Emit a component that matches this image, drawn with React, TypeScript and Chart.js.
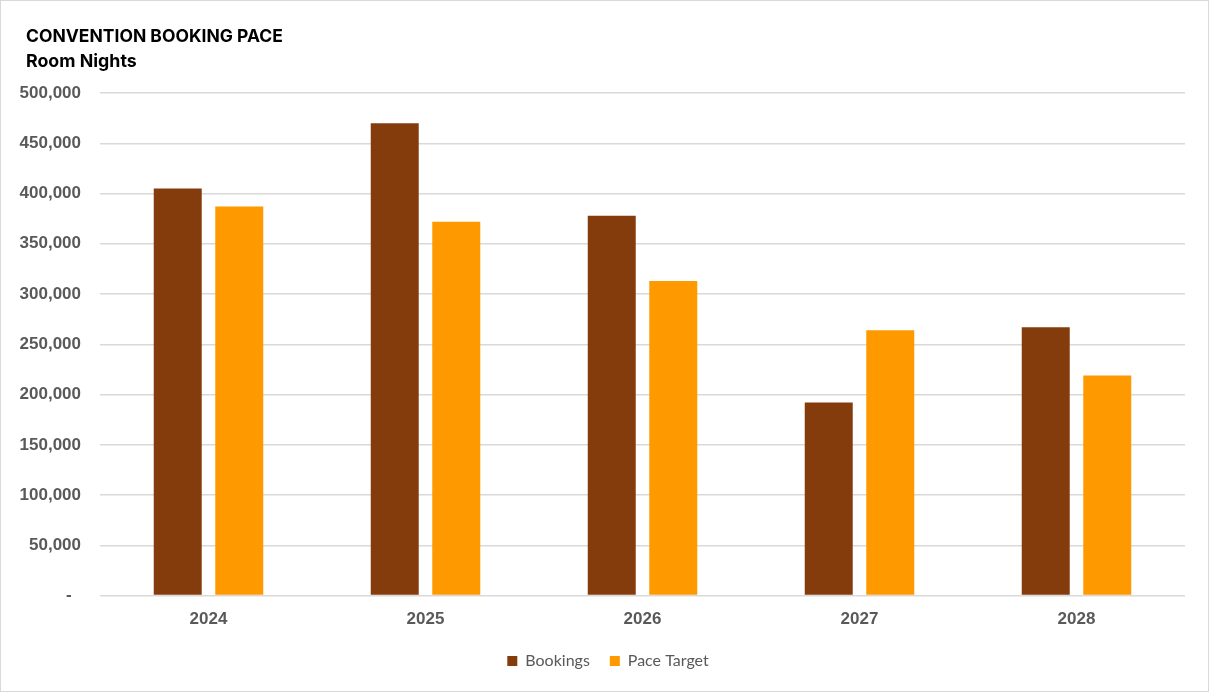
import React, { useEffect, useRef } from "react";
import { Chart, registerables } from "chart.js";

Chart.register(...registerables);

const years = ["2024", "2025", "2026", "2027", "2028"];
const bookings = [405000, 470000, 378000, 192000, 267000];
const paceTarget = [387000, 372000, 313000, 264000, 219000];
const titleText = "CONVENTION BOOKING PACE";
const subtitleText = "Room Nights";

const W = 1207;
const H = 690;

const titlePlugin = {
  id: "customTitle",
  afterLayout(chart: any) {
    const lg = chart.legend;
    if (lg) {
      lg.top -= 11;
      lg.bottom -= 11;
      lg.left += 15;
      lg.right += 15;
    }
  },
  afterDraw(chart: any) {
    const ctx = chart.ctx;
    ctx.save();
    ctx.fillStyle = "#000000";
    ctx.textAlign = "left";
    ctx.textBaseline = "alphabetic";
    ctx.font = "bold 17.5px Inter";
    ctx.fillText(titleText, 25, 41);
    ctx.font = "bold 17.8px Inter";
    ctx.fillText(subtitleText, 25, 66);
    ctx.restore();
  },
};

export default function App() {
  const ref = useRef<HTMLCanvasElement | null>(null);

  useEffect(() => {
    document.body.style.margin = "0";
    if (!ref.current) return;
    const chart = new Chart(ref.current, {
      type: "bar",
      data: {
        labels: years,
        datasets: [
          {
            label: "Bookings",
            data: bookings,
            backgroundColor: "#843C0C",
            categoryPercentage: 0.567,
            barPercentage: 0.78,
          },
          {
            label: "Pace Target",
            data: paceTarget,
            backgroundColor: "#FF9900",
            categoryPercentage: 0.567,
            barPercentage: 0.78,
          },
        ],
      },
      options: {
        animation: false,
        responsive: false,
        devicePixelRatio: 1,
        layout: { padding: { top: 92, right: 23, bottom: 1, left: 0 } },
        plugins: {
          title: { display: false },
          tooltip: { enabled: false },
          legend: {
            position: "bottom",
            labels: {
              boxWidth: 10,
              boxHeight: 10,
              padding: 20,
              color: "#595959",
              font: { family: "Lato", size: 16 },
            },
          },
        },
        scales: {
          x: {
            grid: { display: false, drawTicks: false },
            border: { display: false },
            ticks: {
              color: "#595959",
              padding: 14,
              font: { family: "Liberation Sans", size: 17, weight: "bold" },
            },
          },
          y: {
            min: 0,
            max: 500000,
            border: { display: false },
            grid: { color: "#D9D9D9", lineWidth: 1.5, drawTicks: false },
            afterFit(scale: any) {
              scale.width = 99;
            },
            ticks: {
              stepSize: 50000,
              color: "#595959",
              padding: 19,
              font: { family: "Liberation Sans", size: 17, weight: "bold" },
              callback: (v: any) =>
                Number(v) === 0 ? "-  " : Number(v).toLocaleString("en-US"),
            },
          },
        },
      },
      plugins: [titlePlugin],
    });
    return () => chart.destroy();
  }, []);

  return (
    <div
      style={{
        width: 1209,
        height: 692,
        boxSizing: "border-box",
        border: "1px solid #D9D9D9",
        background: "#ffffff",
        overflow: "hidden",
      }}
    >
      <canvas ref={ref} width={W} height={H} style={{ display: "block", width: W, height: H }} />
    </div>
  );
}
